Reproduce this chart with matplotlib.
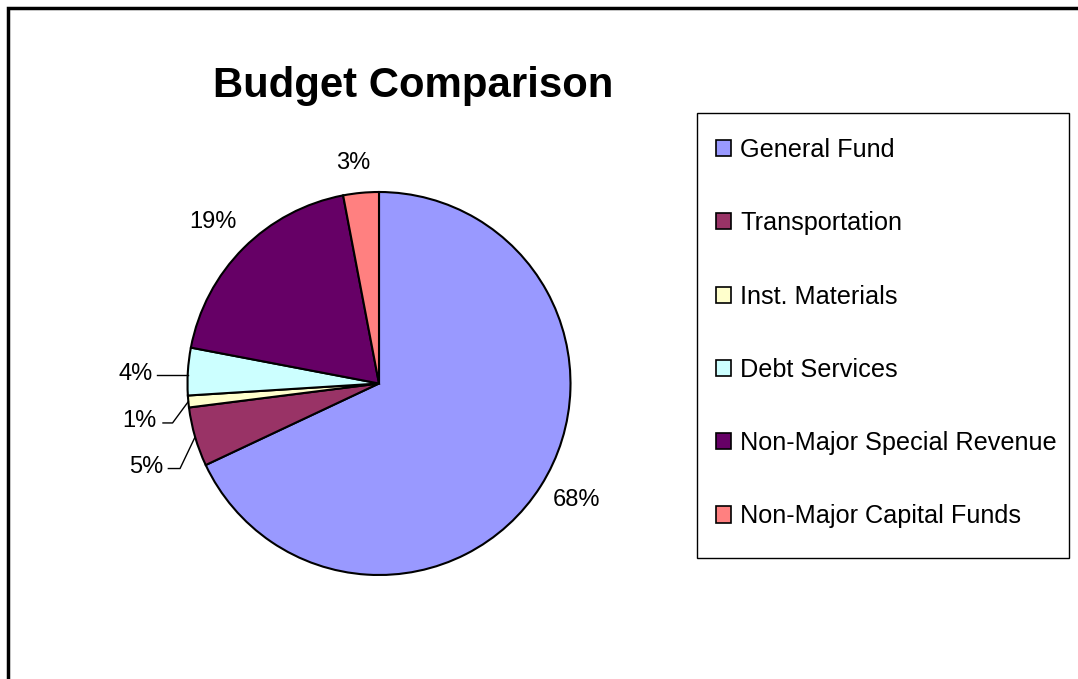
import matplotlib.pyplot as plt
from matplotlib.patches import Rectangle
import numpy as np

plt.rcParams['font.family'] = ['Liberation Sans', 'DejaVu Sans']

# Data
categories = ["General Fund", "Transportation", "Inst. Materials",
              "Debt Services", "Non-Major Special Revenue", "Non-Major Capital Funds"]
shares = [68, 5, 1, 4, 19, 3]
colors = ["#9999FF", "#993366", "#FFFFCC", "#CCFFFF", "#660066", "#FF8080"]

# label placement (pie radius units), leader line elbows for the small slices
label_pos = [(1.03, -0.61), (-1.214, -0.434), (-1.25, -0.196),
             (-1.27, 0.052), (-0.867, 0.843), (-0.136, 1.15)]
leader_end = {1: -1.10, 2: -1.128, 3: -1.159}
leader_elbow = {1: -1.039, 2: -1.078, 3: None}

W, H = 1078, 679
fig = plt.figure(figsize=(W / 100, H / 100), dpi=100)

# pie axes: centre at (379, 383.5) px, radius 191.5 px
cx, cy, R = 379, 383.5, 191.5
ax = fig.add_axes([0, 0, 1, 1])

wedges, _ = ax.pie(shares, colors=colors, startangle=90, counterclock=False,
                   radius=1.0, wedgeprops=dict(edgecolor="black", linewidth=1.5))
ax.set_aspect("auto")
ax.set_xlim(-cx / R, (W - cx) / R)
ax.set_ylim(-(H - cy) / R, cy / R)
ax.axis("off")

for i, w in enumerate(wedges):
    mid = np.deg2rad((w.theta1 + w.theta2) / 2)
    lx, ly = label_pos[i]
    ax.text(lx, ly, f"{shares[i]}%", ha="center", va="center", fontsize=17)
    if i in leader_end:
        ax_, ay_ = np.cos(mid), np.sin(mid)
        ex = leader_elbow[i]
        if ex is None:
            xs, ys = [ax_, leader_end[i]], [ly - 0.008, ly - 0.008]
        else:
            xs, ys = [ax_, ex, leader_end[i]], [ay_, ly - 0.01, ly - 0.01]
        ax.plot(xs, ys, color="black", linewidth=1)

# title
fig.text(413 / W, 1 - 86 / H, "Budget Comparison", ha="center", va="center",
         fontsize=30.2, fontweight="bold")

# legend (frame drawn separately so its box matches the reference)
leg = fig.legend(wedges, categories, loc="upper left",
                 bbox_to_anchor=(697 / W, 1 - 119 / H), fontsize=18.2,
                 frameon=False,
                 handlelength=0.6, handleheight=0.6, handletextpad=0.35,
                 labelspacing=1.95, borderpad=0.75, borderaxespad=0)
for h in leg.legend_handles:
    h.set_linewidth(1.2)
fig.patches.append(Rectangle((697 / W, 1 - 558 / H), 372 / W, 445 / H,
                             transform=fig.transFigure, fill=False,
                             edgecolor="black", linewidth=1))

# outer chart frame
fig.patches.append(Rectangle((8 / W, -0.1), 1.2, 1 - 8 / H + 0.1,
                             transform=fig.transFigure, fill=False,
                             edgecolor="black", linewidth=2.5))

fig.savefig("out.png", dpi=100)
